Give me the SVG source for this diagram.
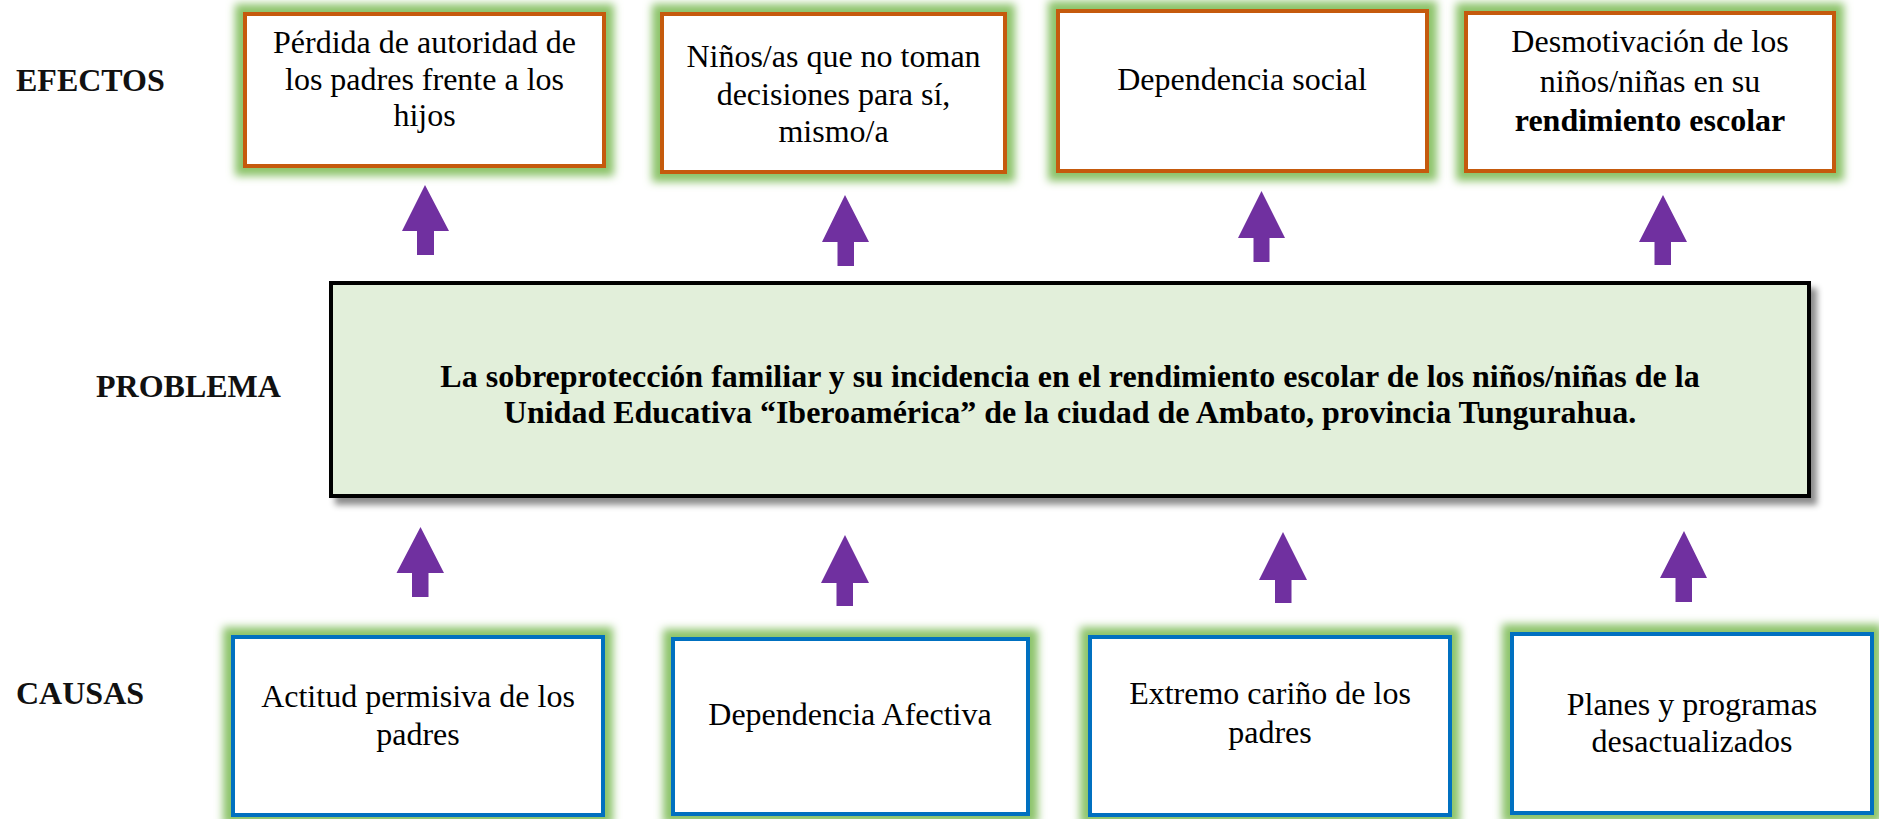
<svg xmlns="http://www.w3.org/2000/svg" width="1879" height="819" viewBox="0 0 1879 819">
  <defs>
    <filter id="glow" x="-10%" y="-15%" width="120%" height="130%">
      <feMorphology in="SourceAlpha" operator="dilate" radius="8" result="d"/>
      <feGaussianBlur in="d" stdDeviation="4" result="b"/>
      <feFlood flood-color="#8CC36A" flood-opacity="1"/>
      <feComposite in2="b" operator="in" result="g"/>
      <feMerge><feMergeNode in="g"/><feMergeNode in="SourceGraphic"/></feMerge>
    </filter>
    <filter id="shadow" x="-5%" y="-10%" width="110%" height="125%">
      <feGaussianBlur in="SourceAlpha" stdDeviation="3" result="b"/>
      <feOffset in="b" dx="6" dy="7" result="o"/>
      <feFlood flood-color="#000" flood-opacity="0.45"/>
      <feComposite in2="o" operator="in" result="s"/>
      <feMerge><feMergeNode in="s"/><feMergeNode in="SourceGraphic"/></feMerge>
    </filter>
  </defs>
  <style>
    .t { font-family: "Liberation Serif", "Times New Roman", Times, serif; font-size: 32px; fill: #000; text-anchor: middle; }
    .lbl { font-family: "Liberation Serif", "Times New Roman", Times, serif; font-size: 32px; font-weight: bold; fill: #111; }
    .b { font-weight: bold; }
    .eff { fill: #fff; stroke: #C55A11; stroke-width: 4; filter: url(#glow); }
    .cau { fill: #fff; stroke: #0070C0; stroke-width: 4; filter: url(#glow); }
    .prob { fill: #E2EFDA; stroke: #000; stroke-width: 4; filter: url(#shadow); }
    .arrow { fill: #7030A0; }
  </style>
  <rect width="1879" height="819" fill="#fff"/>

  <g id="labels">
    <text class="lbl" x="16" y="91">EFECTOS</text>
    <text class="lbl" x="96" y="397">PROBLEMA</text>
    <text class="lbl" x="16" y="704">CAUSAS</text>
  </g>

  <g id="effect1">
    <rect class="eff" x="245" y="14" width="359" height="152"/>
    <text class="t" x="424.5" y="53">Pérdida de autoridad de</text>
    <text class="t" x="424.5" y="90">los padres frente a los</text>
    <text class="t" x="424.5" y="126">hijos</text>
  </g>
  <g id="effect2">
    <rect class="eff" x="662" y="14" width="343" height="158"/>
    <text class="t" x="833.5" y="67">Niños/as que no toman</text>
    <text class="t" x="833.5" y="105">decisiones para sí,</text>
    <text class="t" x="833.5" y="142">mismo/a</text>
  </g>
  <g id="effect3">
    <rect class="eff" x="1058" y="11" width="369" height="160"/>
    <text class="t" x="1242" y="90">Dependencia social</text>
  </g>
  <g id="effect4">
    <rect class="eff" x="1466" y="13" width="368" height="158"/>
    <text class="t" x="1650" y="52">Desmotivación de los</text>
    <text class="t" x="1650" y="92">niños/niñas en su</text>
    <text class="t b" x="1650" y="131">rendimiento escolar</text>
  </g>

  <g id="problem">
    <rect class="prob" x="331" y="283" width="1478" height="213"/>
    <text class="t b" x="1070" y="387">La sobreprotección familiar y su incidencia en el rendimiento escolar de los niños/niñas de la</text>
    <text class="t b" x="1070" y="423">Unidad Educativa “Iberoamérica” de la ciudad de Ambato, provincia Tungurahua.</text>
  </g>

  <g id="cause1">
    <rect class="cau" x="233" y="637" width="370" height="178"/>
    <text class="t" x="418" y="707">Actitud permisiva de los</text>
    <text class="t" x="418" y="745">padres</text>
  </g>
  <g id="cause2">
    <rect class="cau" x="673" y="639" width="355" height="175"/>
    <text class="t" x="850" y="725">Dependencia Afectiva</text>
  </g>
  <g id="cause3">
    <rect class="cau" x="1090" y="637" width="360" height="178"/>
    <text class="t" x="1270" y="704">Extremo cariño de los</text>
    <text class="t" x="1270" y="743">padres</text>
  </g>
  <g id="cause4">
    <rect class="cau" x="1512" y="634" width="360" height="179"/>
    <text class="t" x="1692" y="715">Planes y programas</text>
    <text class="t" x="1692" y="752">desactualizados</text>
  </g>

  <g id="connectors">
    <path class="arrow" d="M425,185 L449,231 L434,231 L434,255 L417,255 L417,231 L402,231 Z"/>
    <path class="arrow" d="M845,195 L869,242 L854,242 L854,266 L837.5,266 L837.5,242 L822,242 Z"/>
    <path class="arrow" d="M1261.5,191 L1285,238 L1269.5,238 L1269.5,262 L1253.5,262 L1253.5,238 L1238,238 Z"/>
    <path class="arrow" d="M1663,195 L1687,242 L1671,242 L1671,265 L1654.5,265 L1654.5,242 L1639,242 Z"/>
    <path class="arrow" d="M420.5,527 L444,573 L428.5,573 L428.5,597 L412,597 L412,573 L396.5,573 Z"/>
    <path class="arrow" d="M845,535 L869,583 L853,583 L853,606 L836.5,606 L836.5,583 L821,583 Z"/>
    <path class="arrow" d="M1283,532 L1307,580 L1291.5,580 L1291.5,603 L1275,603 L1275,580 L1259,580 Z"/>
    <path class="arrow" d="M1684,531 L1707,578 L1692,578 L1692,602 L1675.5,602 L1675.5,578 L1660,578 Z"/>
  </g>
</svg>
